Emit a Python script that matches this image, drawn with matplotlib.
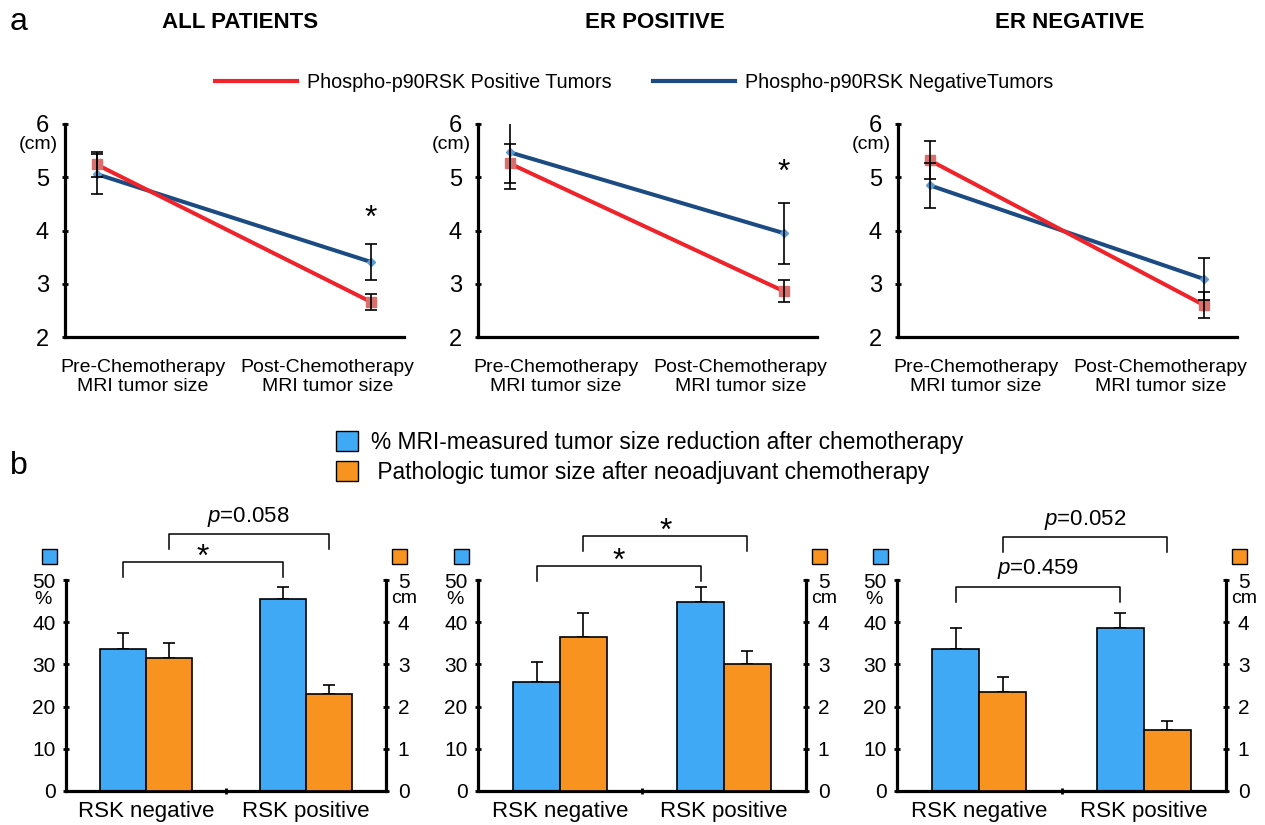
import matplotlib
matplotlib.use('Agg')
import matplotlib.pyplot as plt
import numpy as np
from matplotlib.lines import Line2D
from matplotlib.patches import Patch, Rectangle

plt.rcParams['font.family'] = ['Liberation Sans', 'DejaVu Sans']
plt.rcParams['mathtext.fontset'] = 'custom'
plt.rcParams['mathtext.it'] = 'Liberation Sans:italic'
plt.rcParams['mathtext.rm'] = 'Liberation Sans'

W, H = 1265, 825

# --- data, panel a ---
groups = ['ALL PATIENTS', 'ER POSITIVE', 'ER NEGATIVE']
timepoints = ['Pre-Chemotherapy\nMRI tumor size', 'Post-Chemotherapy\nMRI tumor size']
pos_mean = [[5.24, 2.66], [5.26, 2.86], [5.32, 2.60]]
pos_err = [[0.24, 0.15], [0.36, 0.21], [0.36, 0.24]]
neg_mean = [[5.06, 3.41], [5.47, 3.95], [4.85, 3.09]]
neg_err = [[0.38, 0.34], [0.70, 0.57], [0.42, 0.39]]
line_star_y = [4.22, 5.09, None]

# --- data, panel b ---
rsk_labels = ['RSK negative', 'RSK positive']
mri_reduction = [[33.7, 45.6], [25.9, 44.8], [33.6, 38.6]]
mri_err = [[3.8, 2.8], [4.7, 3.6], [5.0, 3.5]]
path_size = [[3.16, 2.31], [3.64, 3.01], [2.35, 1.45]]
path_err = [[0.34, 0.21], [0.57, 0.31], [0.36, 0.20]]
mri_sig = ['*', '*', '$p$=0.459']
path_sig = ['$p$=0.058', '*', '$p$=0.052']
mri_bracket_y = [54.2, 53.4, 48.4]
path_bracket_y = [61.0, 60.4, 60.3]

RED = '#f0232a'
NAVY = '#1b4b82'
BAR_BLUE = '#3fa9f5'
BAR_ORANGE = '#f7931e'
SPINE_W = 2.3

fig = plt.figure(figsize=(W / 100, H / 100), dpi=100)


def px_axes(l, t, r, b):
    return fig.add_axes([l / W, 1 - b / H, (r - l) / W, (b - t) / H])


# ---------------- panel a ----------------
line_left = [65, 478, 898]
title_x = [240, 655, 1070]
label_frac = [0.23, 0.775]
for i in range(3):
    ax = px_axes(line_left[i], 124, line_left[i] + 339, 337)
    x = np.arange(2)
    ax.plot(x, neg_mean[i], color=NAVY, lw=2.9, zorder=2)
    ax.plot(x, neg_mean[i], 'D', color='#5a9bd5', ms=4.5, zorder=3)
    ax.plot(x, pos_mean[i], color=RED, lw=2.9, zorder=4)
    ax.plot(x, pos_mean[i], 's', color='#d9706d', ms=7, zorder=5)
    ax.errorbar(x, neg_mean[i], yerr=neg_err[i], fmt='none', ecolor='black',
                elinewidth=1.2, capsize=4, capthick=1.2, zorder=6)
    ax.errorbar(x, pos_mean[i], yerr=pos_err[i], fmt='none', ecolor='black',
                elinewidth=1.2, capsize=4, capthick=1.2, zorder=6)
    if line_star_y[i] is not None:
        ax.text(1, line_star_y[i], '*', ha='center', va='center', fontsize=23)

    ax.set_xlim(-0.115, 1.121)
    ax.set_ylim(2, 6)
    ax.set_yticks([2, 3, 4, 5, 6])
    ax.set_xticks([])
    for j, lab in enumerate(timepoints):
        ax.text(label_frac[j], -0.105, lab, transform=ax.transAxes, ha='center', va='top',
                fontsize=14, linespacing=1.15)
    for s in ['top', 'right']:
        ax.spines[s].set_visible(False)
    for s in ['left', 'bottom']:
        ax.spines[s].set_linewidth(SPINE_W)
    ax.tick_params(axis='y', direction='inout', length=5, width=2, pad=9, labelsize=17)
    ax.annotate('(cm)', xy=(0, 5.62), xycoords=('axes fraction', 'data'),
                xytext=(-5, 0), textcoords='offset points', ha='right', va='center',
                fontsize=14, annotation_clip=False)
    fig.text(title_x[i] / W, 1 - 23 / H, groups[i], ha='center', va='center',
             fontsize=16, fontweight='bold')

fig.text(10 / W, 1 - 22 / H, 'a', fontsize=23, va='center')
fig.legend(handles=[Line2D([], [], color=RED, lw=3),
                    Line2D([], [], color=NAVY, lw=3)],
           labels=['Phospho-p90RSK Positive Tumors', 'Phospho-p90RSK NegativeTumors'],
           ncol=2, loc='center', bbox_to_anchor=(634 / W, 1 - 82 / H), frameon=False,
           handlelength=4.15, columnspacing=2.1, handletextpad=0.5, fontsize=14.2)

# ---------------- panel b ----------------
bar_left = [66, 478, 897]
bar_right = [386, 806, 1226]
bw = 0.285
for i in range(3):
    l, r = bar_left[i], bar_right[i]
    ax = px_axes(l, 580, r, 791)
    ax2 = ax.twinx()
    x = np.arange(2)
    ax.bar(x - bw / 2, mri_reduction[i], bw, color=BAR_BLUE, edgecolor='black', lw=1.2, zorder=2)
    ax.errorbar(x - bw / 2, mri_reduction[i], yerr=[[0, 0], mri_err[i]], fmt='none',
                ecolor='black', elinewidth=1.2, capsize=4, capthick=1.2, zorder=1)
    ax2.bar(x + bw / 2, path_size[i], bw, color=BAR_ORANGE, edgecolor='black', lw=1.2, zorder=2)
    ax2.errorbar(x + bw / 2, path_size[i], yerr=[[0, 0], path_err[i]], fmt='none',
                 ecolor='black', elinewidth=1.2, capsize=4, capthick=1.2, zorder=1)

    ax.set_xlim(-0.5, 1.5)
    ax.set_ylim(0, 50)
    ax2.set_ylim(0, 5)
    ax.set_yticks(range(0, 51, 10))
    ax2.set_yticks(range(0, 6))
    ax.set_xticks(x, rsk_labels)
    ax.set_xticks([0.5], minor=True)
    for a in (ax, ax2):
        a.spines['top'].set_visible(False)
    ax.spines['right'].set_visible(False)
    ax2.spines['left'].set_visible(False)
    ax2.spines['bottom'].set_visible(False)
    ax.spines['left'].set_linewidth(SPINE_W)
    ax.spines['bottom'].set_linewidth(SPINE_W)
    ax2.spines['right'].set_linewidth(SPINE_W)
    ax.tick_params(axis='y', direction='inout', length=5, width=2, pad=5, labelsize=15)
    ax2.tick_params(axis='y', direction='inout', length=5, width=2, pad=6, labelsize=15)
    ax.tick_params(axis='x', which='major', length=0, pad=7, labelsize=16)
    ax.tick_params(axis='x', which='minor', direction='inout', length=5, width=2)
    ax.annotate('%', xy=(0, 45.3), xycoords=('axes fraction', 'data'),
                xytext=(-10, 0), textcoords='offset points', ha='right', va='center',
                fontsize=14, annotation_clip=False)
    ax.annotate('cm', xy=(1, 45.7), xycoords=('axes fraction', 'data'),
                xytext=(4, 0), textcoords='offset points', ha='left', va='center',
                fontsize=14, annotation_clip=False)

    # significance brackets
    leg = 3.6
    x0, x1 = -bw / 2, 1 - bw / 2
    yb = mri_bracket_y[i]
    ax.plot([x0, x0, x1, x1], [yb - leg, yb, yb, yb - leg], color='black', lw=1.1, clip_on=False)
    big = mri_sig[i] == '*'
    ax.text((x0 + x1) / 2, yb + (1.0 if big else 4.2), mri_sig[i], ha='center', va='center',
            fontsize=23 if big else 16)
    x0, x1 = bw / 2, 1 + bw / 2
    yb = path_bracket_y[i]
    ax.plot([x0, x0, x1, x1], [yb - leg, yb, yb, yb - leg], color='black', lw=1.1, clip_on=False)
    big = path_sig[i] == '*'
    ax.text((x0 + x1) / 2, yb + (1.0 if big else 4.0), path_sig[i], ha='center', va='center',
            fontsize=23 if big else 16)

    # small colour keys above the axes
    sq = 15
    fig.add_artist(Rectangle(((l - 9 - sq) / W, 1 - 564 / H), sq / W, sq / H,
                             facecolor=BAR_BLUE, edgecolor='black', lw=1.0))
    fig.add_artist(Rectangle(((r + 6) / W, 1 - 564 / H), sq / W, sq / H,
                             facecolor=BAR_ORANGE, edgecolor='black', lw=1.0))

fig.text(10 / W, 1 - 466 / H, 'b', fontsize=23, va='center')
fig.legend(handles=[Patch(facecolor=BAR_BLUE, edgecolor='black', lw=1.0),
                    Patch(facecolor=BAR_ORANGE, edgecolor='black', lw=1.0)],
           labels=['% MRI-measured tumor size reduction after chemotherapy',
                   ' Pathologic tumor size after neoadjuvant chemotherapy'],
           loc='upper left', bbox_to_anchor=(336 / W, 1 - 431 / H), frameon=False,
           borderpad=0, borderaxespad=0,
           handlelength=0.95, handleheight=0.95, handletextpad=0.6, labelspacing=0.3,
           fontsize=16.4)

fig.savefig('out.png', dpi=100)
